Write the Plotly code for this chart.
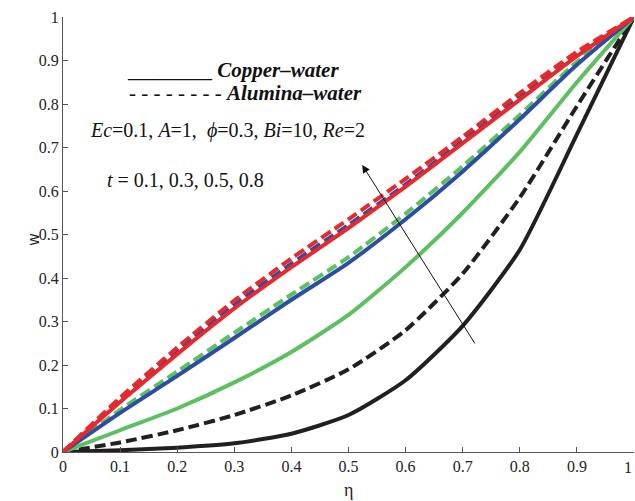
import plotly.graph_objects as go

eta = [0, 0.1, 0.2, 0.3, 0.4, 0.5, 0.6, 0.7, 0.8, 0.9, 1.0]

# Copper-water (solid)
cu_t01 = [0, 0.004, 0.010, 0.020, 0.042, 0.085, 0.165, 0.290, 0.465, 0.730, 1]
cu_t03 = [0, 0.050, 0.100, 0.160, 0.230, 0.315, 0.425, 0.550, 0.690, 0.850, 1]
cu_t05 = [0, 0.090, 0.175, 0.262, 0.350, 0.435, 0.535, 0.645, 0.765, 0.890, 1]
cu_t08 = [0, 0.115, 0.225, 0.330, 0.425, 0.515, 0.610, 0.710, 0.810, 0.910, 1]

# Alumina-water (dashed)
al_t01 = [0, 0.022, 0.050, 0.085, 0.130, 0.190, 0.280, 0.410, 0.585, 0.795, 1]
al_t03 = [0, 0.097, 0.185, 0.274, 0.362, 0.448, 0.548, 0.657, 0.775, 0.897, 1]
al_t05 = [0, 0.120, 0.232, 0.338, 0.433, 0.522, 0.615, 0.715, 0.815, 0.913, 1]
al_t08 = [0, 0.125, 0.240, 0.348, 0.445, 0.535, 0.628, 0.725, 0.825, 0.920, 1]

ticks = [0, 0.1, 0.2, 0.3, 0.4, 0.5, 0.6, 0.7, 0.8, 0.9, 1]
tick_text = ["0", "0.1", "0.2", "0.3", "0.4", "0.5", "0.6", "0.7", "0.8", "0.9", "1"]

BLACK = "#231F20"
GREEN = "#5CBF60"
BLUE = "#2B4EA2"
RED = "#E8282B"

fig = go.Figure()

series = [
    (cu_t01, BLACK, "solid"), (al_t01, BLACK, "11px,5px"),
    (cu_t03, GREEN, "solid"), (al_t03, GREEN, "11px,5px"),
    (cu_t05, BLUE, "solid"), (al_t05, BLUE, "11px,5px"),
    (cu_t08, RED, "solid"), (al_t08, RED, "11px,5px"),
]
for ys, col, dash in series:
    fig.add_trace(go.Scatter(x=eta, y=ys, mode="lines",
                             line=dict(color=col, width=4, dash=dash,
                                       shape="spline", smoothing=0.6),
                             showlegend=False, hoverinfo="skip", cliponaxis=False))

serif = "Liberation Serif, Times New Roman, serif"
tick_font = dict(family=serif, size=16, color="#222222")
axis_common = dict(range=[0, 1], showgrid=False, zeroline=False, showline=True,
                   linecolor="#555555", linewidth=1, ticks="inside", ticklen=5,
                   tickcolor="#555555", tickvals=ticks, ticktext=tick_text,
                   automargin=False, tickfont=tick_font)

fig.update_layout(
    width=635, height=501,
    margin=dict(l=63, r=1, t=17, b=49),
    paper_bgcolor="white", plot_bgcolor="white",
    xaxis=dict(**axis_common),
    yaxis=dict(**axis_common),
)

# last x tick label sits at the page edge
fig.add_annotation(x=ticks[-1], y=-0.036, xref="x", yref="paper", showarrow=False,
                   text=tick_text[-1], font=tick_font, xanchor="right", yanchor="middle")

# axis titles
fig.add_annotation(x=0.5, y=-0.087, xref="x", yref="paper", showarrow=False,
                   text="η", font=dict(family=serif, size=18, color="#222222"),
                   xanchor="center", yanchor="middle")
fig.add_annotation(x=-0.0525, y=0.487, xref="paper", yref="y", showarrow=False,
                   text="w", textangle=-90,
                   font=dict(family="Liberation Sans, Arial, sans-serif", size=16, color="#222222"),
                   xanchor="center", yanchor="middle")

txt_font = dict(family=serif, size=20, color="#111111")
bold_font = dict(family=serif, size=21, color="#111111")
fig.add_annotation(x=0.1086, y=0.878, xref="x", yref="y", xanchor="left", yanchor="middle",
                   showarrow=False, font=bold_font,
                   text="________ <b><i>Copper–water</i></b>")
fig.add_annotation(x=0.112, y=0.825, xref="x", yref="y", xanchor="left", yanchor="middle",
                   showarrow=False, font=bold_font,
                   text="- - - - - - - - <b><i>Alumina–water</i></b>")
fig.add_annotation(x=0.044, y=0.74, xref="x", yref="y", xanchor="left", yanchor="middle",
                   showarrow=False, font=txt_font,
                   text="<i>Ec</i>=0.1, <i>A</i>=1,  <i>ϕ</i>=0.3, <i>Bi</i>=10, <i>Re</i>=2")
fig.add_annotation(x=0.0735, y=0.625, xref="x", yref="y", xanchor="left", yanchor="middle",
                   showarrow=False, font=txt_font,
                   text="<i>t</i> = 0.1, 0.3, 0.5, 0.8")

fig.add_annotation(x=0.524, y=0.66, ax=0.723, ay=0.246, xref="x", yref="y",
                   axref="x", ayref="y", showarrow=True, arrowhead=2, arrowsize=1.6,
                   arrowwidth=1, arrowcolor="#111111", text="")

fig.write_html("out.html", config={"displayModeBar": False},
               post_script="document.body.style.margin='0';document.body.style.overflow='hidden';")
